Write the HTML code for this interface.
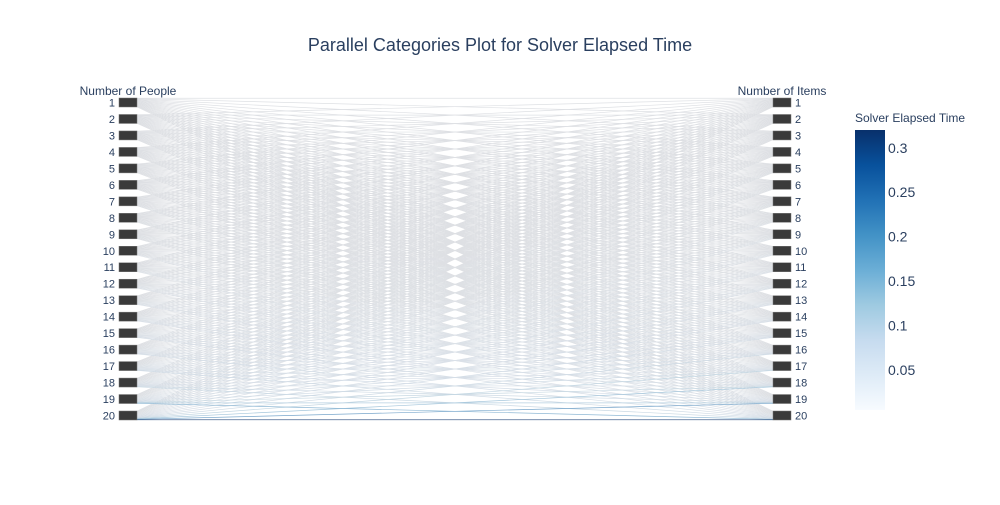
<!DOCTYPE html>
<html><head><meta charset="utf-8"><style>
body{margin:0;background:#fff;font-family:"Liberation Sans",sans-serif}
svg text{font-family:"Liberation Sans",sans-serif;fill:#2a3f5f}
</style></head><body>
<svg id="c" width="1000" height="500">
<defs><linearGradient id="cb" x1="0" y1="1" x2="0" y2="0">
<stop offset="0" stop-color="#f7fbff"/><stop offset="0.125" stop-color="#deebf7"/><stop offset="0.25" stop-color="#c6dbef"/><stop offset="0.375" stop-color="#9ecae1"/><stop offset="0.5" stop-color="#6baed6"/><stop offset="0.625" stop-color="#4292c6"/><stop offset="0.75" stop-color="#2171b5"/><stop offset="0.875" stop-color="#08519c"/><stop offset="1" stop-color="#08306b"/></linearGradient></defs>
<text x="500" y="51" text-anchor="middle" font-size="18">Parallel Categories Plot for Solver Elapsed Time</text>
<text x="128" y="95" text-anchor="middle" font-size="12">Number of People</text>
<text x="782" y="95" text-anchor="middle" font-size="12">Number of Items</text>
<g id="bands"></g>
<g id="bars"></g>
<text x="855" y="122" font-size="12">Solver Elapsed Time</text>
<rect x="855" y="130" width="30" height="280" fill="url(#cb)"/>
<g id="cbt"></g>
</svg>
<script>
const people=[1,2,3,4,5,6,7,8,9,10,11,12,13,14,15,16,17,18,19,20];
const items=[1,2,3,4,5,6,7,8,9,10,11,12,13,14,15,16,17,18,19,20];
// times[i][j] : people i, items j (estimated)
const times=[
[.005,.005,.005,.005,.005,.005,.005,.005,.005,.005,.005,.005,.005,.005,.005,.005,.005,.005,.005,.005],
[.005,.005,.005,.005,.005,.005,.005,.005,.005,.005,.005,.005,.005,.005,.005,.005,.005,.005,.005,.006],
[.005,.005,.005,.005,.005,.005,.005,.005,.005,.005,.006,.006,.006,.006,.006,.006,.007,.007,.007,.008],
[.005,.005,.005,.005,.005,.006,.006,.006,.006,.006,.007,.007,.007,.008,.008,.008,.009,.009,.010,.010],
[.005,.005,.005,.006,.006,.006,.006,.007,.007,.007,.008,.008,.009,.009,.010,.010,.011,.011,.012,.013],
[.005,.005,.006,.006,.006,.007,.007,.008,.008,.009,.009,.010,.011,.011,.012,.013,.014,.015,.015,.016],
[.005,.006,.006,.006,.007,.007,.008,.009,.009,.010,.011,.012,.013,.014,.015,.016,.017,.018,.019,.020],
[.005,.006,.006,.007,.007,.008,.009,.010,.011,.012,.013,.014,.015,.016,.017,.019,.020,.022,.023,.025],
[.006,.006,.007,.007,.008,.009,.010,.011,.012,.013,.015,.016,.018,.019,.021,.022,.024,.026,.028,.030],
[.006,.006,.007,.008,.009,.010,.011,.012,.014,.015,.017,.018,.020,.022,.024,.026,.028,.030,.033,.036],
[.006,.007,.008,.009,.010,.011,.012,.014,.015,.017,.019,.021,.023,.025,.028,.030,.033,.036,.039,.042],
[.006,.007,.008,.009,.011,.012,.014,.015,.017,.019,.021,.024,.026,.029,.032,.035,.038,.042,.046,.050],
[.006,.007,.009,.010,.012,.013,.015,.017,.019,.022,.024,.027,.030,.033,.037,.040,.044,.048,.053,.058],
[.007,.008,.009,.011,.013,.015,.017,.019,.022,.024,.027,.031,.034,.038,.042,.046,.051,.056,.061,.067],
[.007,.008,.010,.012,.014,.016,.019,.021,.024,.027,.031,.034,.038,.043,.048,.053,.058,.064,.070,.077],
[.007,.009,.011,.013,.015,.018,.020,.023,.027,.030,.034,.039,.043,.048,.054,.060,.066,.073,.080,.088],
[.008,.009,.011,.014,.017,.019,.022,.026,.030,.034,.038,.043,.049,.055,.061,.068,.075,.083,.091,.100],
[.008,.010,.012,.015,.018,.021,.025,.029,.033,.038,.043,.049,.055,.062,.069,.077,.085,.094,.104,.115],
[.008,.011,.013,.016,.020,.023,.027,.032,.037,.042,.048,.055,.062,.070,.079,.088,.100,.120,.150,.200],
[.009,.011,.014,.018,.021,.025,.030,.035,.041,.047,.054,.062,.070,.080,.090,.105,.130,.170,.230,.320]];
const cbTicks=[0.05,0.1,0.15,0.2,0.25,0.3];

const NS="http://www.w3.org/2000/svg";
const top0=98, bot0=420, n=20, barH=9;
const pitch=(bot0-top0-barH)/(n-1);
function yCat(k){return top0+k*pitch;}
const xL=137, xR=773;
const cmin=0.005,cmax=0.32;
const stops=[[0,[247,251,255]],[.125,[222,235,247]],[.25,[198,219,239]],[.375,[158,202,225]],[.5,[107,174,214]],[.625,[66,146,198]],[.75,[33,113,181]],[.875,[8,81,156]],[1,[8,48,107]]];
function col(v){let t=Math.max(0,Math.min(1,(v-cmin)/(cmax-cmin)));
 for(let k=1;k<stops.length;k++){if(t<=stops[k][0]){const a=stops[k-1],b=stops[k];const f=(t-a[0])/(b[0]-a[0]);
 return a[1].map((c,q)=>c+(b[1][q]-c)*f);}}return stops[8][1];}
const bands=document.getElementById('bands');
const order=[];
for(let i=0;i<n;i++)for(let j=0;j<n;j++)order.push([i,j]);
order.sort((a,b)=>times[a[0]][a[1]]-times[b[0]][b[1]]);
order.forEach(([i,j])=>{
 const v=times[i][j];
 const y1=yCat(i)+(j+0.5)*barH/n, y2=yCat(j)+(i+0.5)*barH/n;
 let c=col(v);
 const g=[222,224,228];const w=Math.min(1,(v-cmin)/0.3)*0.55+ (v>0.03?0.15:0);
 c=c.map((x,q)=>Math.round(g[q]*(1-w)+x*w));
 const l=document.createElementNS(NS,'line');
 
 
 l.setAttribute('x1',xL);l.setAttribute('y1',y1);l.setAttribute('x2',xR);l.setAttribute('y2',y2);
 l.setAttribute('stroke','rgb('+c.join(',')+')');l.setAttribute('stroke-width',0.7);
 bands.appendChild(l);
});
const bars=document.getElementById('bars');
[[119,people,'people'],[773,items,'items']].forEach(([x,cats,nm])=>{
 cats.forEach((c,k)=>{
  const r=document.createElementNS(NS,'rect');
  
  
  r.setAttribute('x',x);r.setAttribute('y',yCat(k));r.setAttribute('width',18);r.setAttribute('height',barH);
  r.setAttribute('fill','#3a3a3a');r.setAttribute('stroke','#777');r.setAttribute('stroke-width',0.5);
  bars.appendChild(r);
  const t=document.createElementNS(NS,'text');
  
  
  t.setAttribute('font-size',11);t.setAttribute('y',yCat(k)+barH/2+4);
  if(nm==='people'){t.setAttribute('x',115);t.setAttribute('text-anchor','end');}
  else{t.setAttribute('x',795);}
  t.textContent=c;bars.appendChild(t);
 });
});
const cbt=document.getElementById('cbt');
cbTicks.forEach(v=>{
 const y=410-(v-cmin)/(cmax-cmin)*280;
 const t=document.createElementNS(NS,'text');
 
 
 t.setAttribute('x',888);t.setAttribute('y',y+5);t.setAttribute('font-size',14);
 t.textContent=v;cbt.appendChild(t);
});
</script>
</body></html>
